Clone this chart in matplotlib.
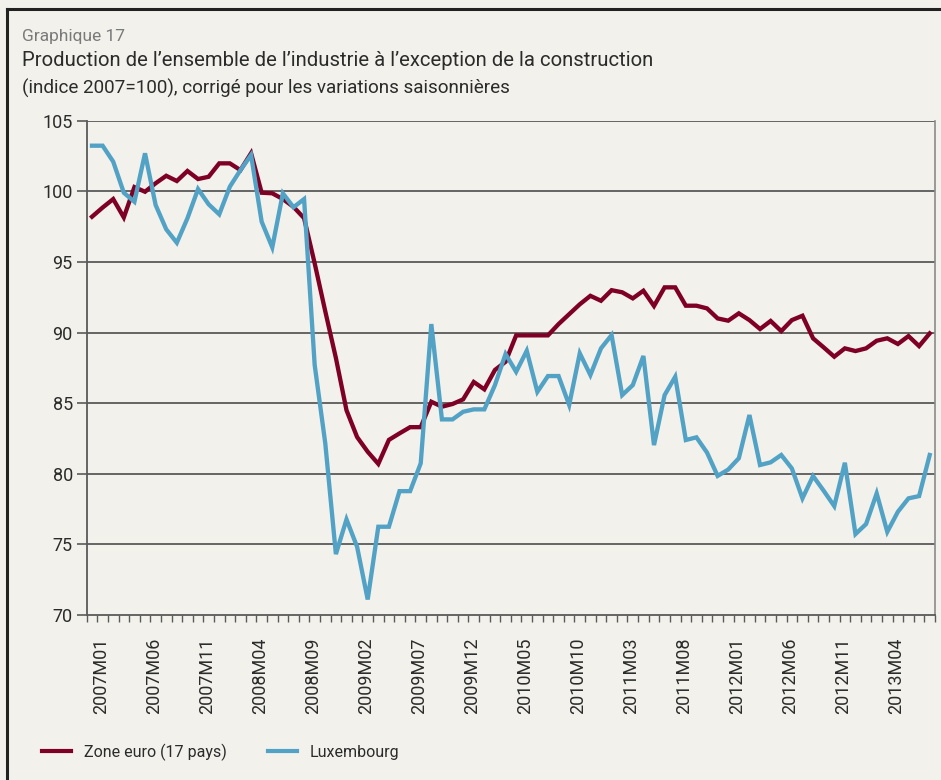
import matplotlib
matplotlib.use("Agg")
import matplotlib.pyplot as plt
import matplotlib.transforms as mtransforms
from matplotlib.lines import Line2D
import numpy as np

plt.rcParams['font.family'] = ['Roboto', 'DejaVu Sans']

# ---- data ----
months = [f"{y}M{m:02d}" for y in range(2007, 2014) for m in range(1, 13)][:80]

zone_euro = [98.2, 98.85, 99.45, 98.15, 100.3, 99.97, 100.57, 101.1, 100.73, 101.44,
             100.87, 101.03, 101.98, 101.98, 101.5, 102.7, 99.9, 99.86, 99.45, 98.9,
             98.1, 94.9, 91.5, 88.2, 84.5, 82.6, 81.56, 80.7, 82.4, 82.86,
             83.3, 83.3, 85.1, 84.75, 84.94, 85.27, 86.5, 85.98, 87.35, 87.93,
             89.8, 89.8, 89.8, 89.8, 90.6, 91.3, 92.0, 92.6, 92.25, 93.0,
             92.85, 92.42, 92.96, 91.88, 93.2, 93.2, 91.9, 91.9, 91.71, 91.0,
             90.84, 91.36, 90.88, 90.25, 90.82, 90.1, 90.88, 91.19, 89.59, 88.95,
             88.29, 88.88, 88.69, 88.88, 89.42, 89.59, 89.19, 89.75, 89.04, 89.94]

luxembourg = [103.23, 103.23, 102.1, 99.9, 99.26, 102.69, 99.03, 97.31, 96.36, 98.09,
              100.16, 99.08, 98.37, 100.33, 101.5, 102.57, 97.85, 96.03, 99.86, 98.87,
              99.45, 87.7, 82.15, 74.31, 76.77, 74.83, 71.1, 76.25, 76.25, 78.77,
              78.77, 80.74, 90.6, 83.85, 83.85, 84.39, 84.56, 84.56, 86.28, 88.48,
              87.22, 88.71, 85.8, 86.92, 86.92, 84.87, 88.53, 86.99, 88.88, 89.82,
              85.57, 86.28, 88.34, 82.03, 85.57, 86.87, 82.39, 82.58, 81.5, 79.85,
              80.3, 81.1, 84.16, 80.62, 80.81, 81.33, 80.38, 78.26, 79.84, 78.8,
              77.71, 80.78, 75.73, 76.44, 78.61, 75.89, 77.31, 78.26, 78.42, 81.33]

label_step = 5
y_ticks = [70, 75, 80, 85, 90, 95, 100, 105]

red = "#7E0025"
blue = "#52A2C6"
bg = "#F2F1EB"
grid_c = "#5A5A5A"
text_c = "#2B2B2B"

W, H = 941, 780
fig = plt.figure(figsize=(W / 100, H / 100), dpi=100, facecolor=bg)

left, right, top, bottom = 86.7, 935, 120.7, 615
ax = fig.add_axes([left / W, 1 - bottom / H, (right - left) / W, (bottom - top) / H])
ax.set_facecolor(bg)

x = np.arange(len(months))
ax.plot(x, zone_euro, color=red, lw=3.1, solid_joinstyle='miter', label="Zone euro (17 pays)", zorder=3)
ax.plot(x, luxembourg, color=blue, lw=3.1, solid_joinstyle='miter', label="Luxembourg", zorder=4)

ax.set_xlim(-0.5, len(months) - 0.5)
ax.set_ylim(70, 105)

# y axis
ax.set_yticks(y_ticks)
ax.set_yticklabels([str(v) for v in y_ticks], fontsize=13, color=text_c)
ax.tick_params(axis='y', length=7, width=1.2, color=grid_c, pad=3)
for v in y_ticks[1:]:
    ax.axhline(v, color=grid_c, lw=1.3, zorder=1)

# x axis: labels every 5 categories, tick marks between categories
ax.set_xticks(x[::label_step])
ax.set_xticklabels(months[::label_step], rotation=90, fontsize=13, color=text_c)
ax.tick_params(axis='x', which='major', length=0, pad=16)
ax.set_xticks(np.arange(-0.5, len(months) + 0.5, 1), minor=True)
ax.tick_params(axis='x', which='minor', length=5, width=1.0, color=grid_c)
shift = mtransforms.ScaledTranslation(9 / 100, 0, fig.dpi_scale_trans)
for lab in ax.get_xticklabels():
    lab.set_transform(lab.get_transform() + shift)

ax.spines['top'].set_visible(False)
ax.spines['left'].set_color(grid_c)
ax.spines['left'].set_linewidth(1.3)
ax.spines['bottom'].set_color(grid_c)
ax.spines['bottom'].set_linewidth(1.3)
ax.spines['right'].set_color("#8A8A8A")
ax.spines['right'].set_linewidth(1.2)

# titles
fig.text(22 / W, 1 - 36 / H, "Graphique 17", fontsize=12.5, color="#7A7A7A", va='center', ha='left')
fig.text(22 / W, 1 - 61 / H, "Production de l\u2019ensemble de l\u2019industrie \u00e0 l\u2019exception de la construction",
         fontsize=14.6, color=text_c, va='center', ha='left')
fig.text(22 / W, 1 - 88 / H, "(indice 2007=100), corrig\u00e9 pour les variations saisonni\u00e8res",
         fontsize=13.6, color=text_c, va='center', ha='left')

# legend
handles = [Line2D([], [], color=red, lw=3), Line2D([], [], color=blue, lw=3)]
fig.legend(handles, ["Zone euro (17 pays)", "Luxembourg"], loc='center left',
           bbox_to_anchor=(28 / W, 1 - 752 / H), ncol=2, frameon=False, fontsize=11.5,
           handlelength=1.8, handletextpad=0.8, columnspacing=2.6, labelcolor=text_c)

# frame
fig.add_artist(Line2D([7 / W, 1.0], [1 - 9 / H, 1 - 9 / H], color="#222222", lw=2.2, transform=fig.transFigure))
fig.add_artist(Line2D([7 / W, 7 / W], [0.0, 1 - 9 / H], color="#222222", lw=2.2, transform=fig.transFigure))

fig.savefig("out.png", dpi=100, facecolor=bg)
